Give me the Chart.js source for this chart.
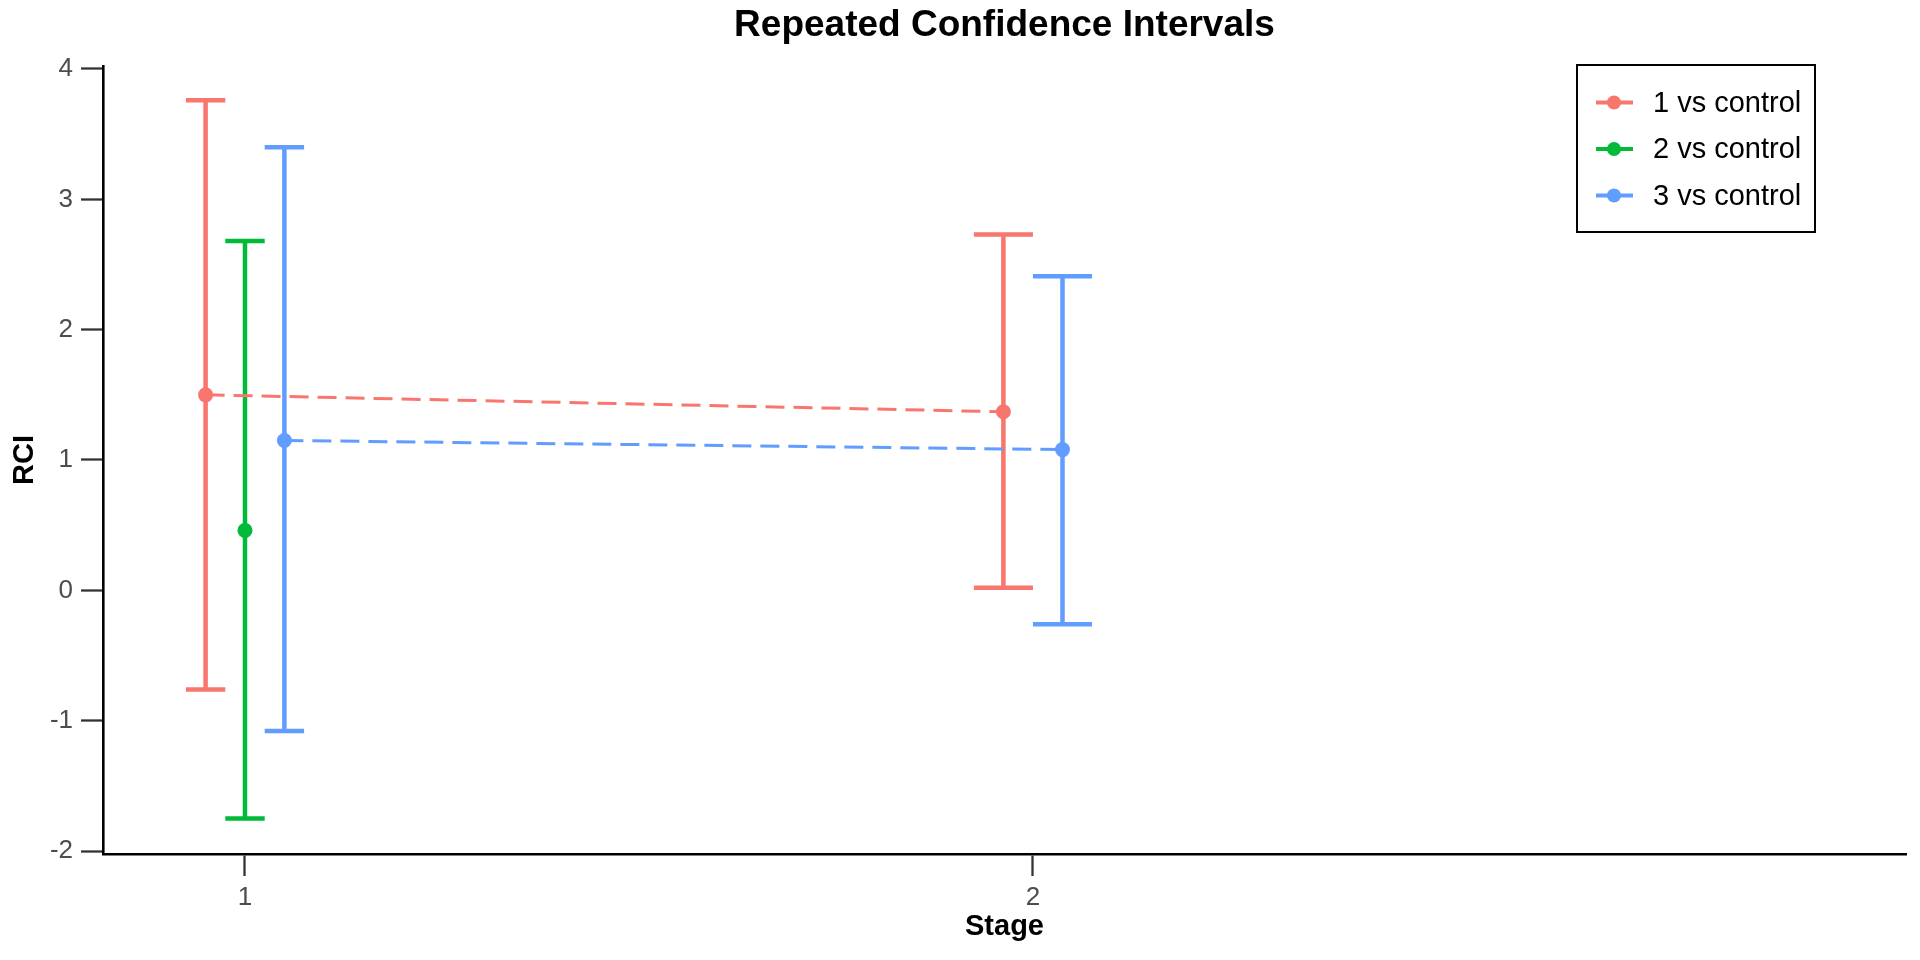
<!DOCTYPE html>
<html>
<head>
<meta charset="utf-8">
<title>Repeated Confidence Intervals</title>
<script src="https://cdn.jsdelivr.net/npm/chart.js@4.4.1/dist/chart.umd.min.js"></script>
<style>
  html, body { margin: 0; padding: 0; background: #ffffff; }
  #wrap { width: 1920px; height: 960px; position: relative; }
</style>
</head>
<body>
<div id="wrap"><canvas id="grafico"></canvas></div>
<script>
// ===============================
// DATA
// ===============================
const stages = [1, 2];
const yTicks = [-2, -1, 0, 1, 2, 3, 4];
const seriesNames = ["1 vs control", "2 vs control", "3 vs control"];
const seriesColors = ["#F8766D", "#00BA38", "#619CFF"];

const estimate1 = [1.50, 1.37];
const lower1 = [-0.76, 0.02];
const upper1 = [3.76, 2.73];

const estimate2 = [0.46, null];
const lower2 = [-1.75, null];
const upper2 = [2.68, null];

const estimate3 = [1.15, 1.08];
const lower3 = [-1.08, -0.26];
const upper3 = [3.40, 2.41];

const estimates = [estimate1, estimate2, estimate3];
const lowers = [lower1, lower2, lower3];
const uppers = [upper1, upper2, upper3];

// ===============================
// DODGE (like position_dodge(0.15))
// ===============================
const dodgeWidth = 0.15;

function dodgeInfo(stageIdx, seriesIdx) {
  const present = [];
  estimates.forEach((e, i) => { if (e[stageIdx] !== null) present.push(i); });
  const n = present.length;
  const k = present.indexOf(seriesIdx);
  const slot = dodgeWidth / n;
  return { x: stages[stageIdx] + (k - (n - 1) / 2) * slot, slot: slot };
}

const datasets = seriesNames.map((name, i) => ({
  label: name,
  data: stages.map((s, j) => estimates[i][j] === null ? null :
    { x: dodgeInfo(j, i).x, y: estimates[i][j] }).filter(p => p !== null),
  borderColor: seriesColors[i],
  backgroundColor: seriesColors[i],
  borderWidth: 3,
  borderDash: [19, 9],
  pointRadius: 7.5,
  pointHoverRadius: 7.5,
  pointBorderWidth: 0,
  pointBackgroundColor: seriesColors[i],
  fill: false,
  tension: 0
}));

// ===============================
// PLUGINS
// ===============================
const errorBars = {
  id: "errorBars",
  beforeDatasetsDraw(chart) {
    const { ctx, scales: { x, y } } = chart;
    ctx.save();
    ctx.lineWidth = 4.5;
    ctx.lineCap = "butt";
    seriesNames.forEach((name, i) => {
      ctx.strokeStyle = seriesColors[i];
      stages.forEach((s, j) => {
        if (estimates[i][j] === null) return;
        const d = dodgeInfo(j, i);
        const px = x.getPixelForValue(d.x);
        const x0 = x.getPixelForValue(d.x - d.slot / 2);
        const x1 = x.getPixelForValue(d.x + d.slot / 2);
        const yl = y.getPixelForValue(lowers[i][j]);
        const yu = y.getPixelForValue(uppers[i][j]);
        ctx.beginPath();
        ctx.moveTo(px, yl); ctx.lineTo(px, yu);
        ctx.moveTo(x0, yl); ctx.lineTo(x1, yl);
        ctx.moveTo(x0, yu); ctx.lineTo(x1, yu);
        ctx.stroke();
      });
    });
    ctx.restore();
  }
};

const legendBox = {
  id: "legendBox",
  afterDraw(chart) {
    const ctx = chart.ctx;
    ctx.save();
    ctx.strokeStyle = "#000000";
    ctx.lineWidth = 2;
    ctx.strokeRect(1577, 65, 238, 167);
    ctx.font = "29px 'Liberation Sans', Arial, sans-serif";
    ctx.textBaseline = "middle";
    ctx.textAlign = "left";
    seriesNames.forEach((name, i) => {
      const yy = 102.5 + i * 46.5;
      ctx.strokeStyle = seriesColors[i];
      ctx.lineWidth = 4;
      ctx.beginPath();
      ctx.moveTo(1596, yy); ctx.lineTo(1633, yy);
      ctx.stroke();
      ctx.fillStyle = seriesColors[i];
      ctx.beginPath();
      ctx.arc(1614, yy, 7, 0, Math.PI * 2);
      ctx.fill();
      ctx.fillStyle = "#000000";
      ctx.fillText(name, 1653, yy + 1);
    });
    ctx.restore();
  }
};

// ===============================
// CHART
// ===============================
const ctxGrafico = document.getElementById("grafico").getContext("2d");
const grafico = new Chart(ctxGrafico, {
  type: "line",
  data: { datasets: datasets },
  plugins: [errorBars, legendBox],
  options: {
    responsive: true,
    maintainAspectRatio: false,
    devicePixelRatio: 1,
    animation: false,
    layout: { padding: { top: 0, left: 0, right: 14, bottom: 0 } },
    plugins: {
      legend: { display: false },
      tooltip: { enabled: false },
      title: {
        display: true,
        fullSize: false,
        text: "Repeated Confidence Intervals",
        color: "#000000",
        font: { family: "'Liberation Sans', Arial, sans-serif", size: 37, weight: "bold", lineHeight: 1.2 },
        padding: { top: 3.3, bottom: 18.3 }
      }
    },
    scales: {
      x: {
        type: "linear",
        min: 0.8198,
        max: 3.108,
        afterFit(scale) { scale.height = 106; },
        afterBuildTicks(scale) { scale.ticks = stages.map(v => ({ value: v })); },
        grid: { display: true, drawOnChartArea: false, drawTicks: true, tickLength: 22, tickColor: "#333333", tickWidth: 2.3 },
        border: { display: true, color: "#000000", width: 2.6 },
        ticks: {
          color: "#4D4D4D",
          padding: 6,
          font: { family: "'Liberation Sans', Arial, sans-serif", size: 26 },
          callback: v => String(v)
        },
        title: {
          display: true,
          text: "Stage",
          color: "#000000",
          font: { family: "'Liberation Sans', Arial, sans-serif", size: 29, weight: "bold", lineHeight: 1.2 },
          padding: { top: 0, bottom: 16 }
        }
      },
      y: {
        type: "linear",
        min: -2.023,
        max: 4.023,
        afterFit(scale) { scale.width = 103; },
        afterBuildTicks(scale) { scale.ticks = yTicks.map(v => ({ value: v })); },
        grid: { display: true, drawOnChartArea: false, drawTicks: true, tickLength: 22, tickColor: "#333333", tickWidth: 2.3 },
        border: { display: true, color: "#000000", width: 2.6 },
        ticks: {
          color: "#4D4D4D",
          padding: 8,
          font: { family: "'Liberation Sans', Arial, sans-serif", size: 26 },
          callback: v => String(v)
        },
        title: {
          display: true,
          text: "RCI",
          color: "#000000",
          font: { family: "'Liberation Sans', Arial, sans-serif", size: 29, weight: "bold", lineHeight: 1.2 },
          padding: { top: 8, bottom: 0 }
        }
      }
    }
  }
});
</script>
</body>
</html>
